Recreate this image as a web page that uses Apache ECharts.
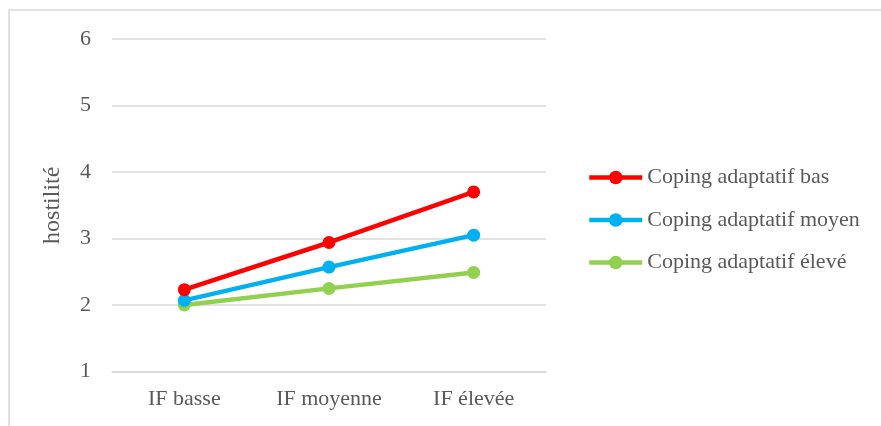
<!DOCTYPE html>
<html>
<head>
<meta charset="utf-8">
<script src="https://cdn.jsdelivr.net/npm/echarts@6/dist/echarts.min.js"></script>
<style>
  html, body { margin: 0; padding: 0; background: #ffffff; }
  #chart { width: 881px; height: 426px; }
</style>
</head>
<body>
<div id="chart"></div>
<script>
// Niveaux d'intolérance à la frustration (axe des abscisses)
const categories = ['IF basse', 'IF moyenne', 'IF élevée'];

// Hostilité moyenne selon le niveau de coping adaptatif
const copingBas = [2.23, 2.94, 3.70];
const copingMoyen = [2.07, 2.57, 3.05];
const copingEleve = [2.00, 2.25, 2.49];

const seriesNames = ['Coping adaptatif bas', 'Coping adaptatif moyen', 'Coping adaptatif élevé'];
const seriesColors = ['#FF0000', '#00B0F0', '#92D050'];
const seriesValues = [copingBas, copingMoyen, copingEleve];

const axisFont = 'Liberation Serif';
const textGray = '#595959';

const chart = echarts.init(document.getElementById('chart'), null, { renderer: 'canvas' });

chart.setOption({
  backgroundColor: '#ffffff',
  animation: false,
  graphic: [
    {
      type: 'polyline',
      shape: { points: [[9, 426], [9, 10], [881, 10]] },
      style: { stroke: '#D9D9D9', lineWidth: 1.5, fill: null },
      silent: true
    }
  ],
  grid: {
    left: 112,
    right: 335,
    top: 39,
    bottom: 54.5,
    containLabel: false
  },
  legend: {
    orient: 'vertical',
    left: 587,
    top: 166,
    padding: 0,
    itemWidth: 53,
    itemHeight: 17,
    itemGap: 19.5,
    lineStyle: { width: 4.5 },
    textStyle: { fontFamily: axisFont, fontSize: 22, color: textGray, lineHeight: 23 },
    data: seriesNames
  },
  xAxis: {
    type: 'category',
    data: categories,
    boundaryGap: true,
    axisLine: { show: true, lineStyle: { color: '#D9D9D9', width: 1.5 } },
    axisTick: { show: false },
    axisLabel: { fontFamily: axisFont, fontSize: 22, color: textGray, margin: 17 }
  },
  yAxis: {
    type: 'value',
    min: 1,
    max: 6,
    interval: 1,
    name: 'hostilité',
    nameLocation: 'middle',
    nameGap: 47,
    nameRotate: 90,
    nameTextStyle: { fontFamily: axisFont, fontSize: 24, color: textGray },
    axisLine: { show: false },
    axisTick: { show: false },
    axisLabel: { fontFamily: axisFont, fontSize: 22, color: textGray, margin: 21 },
    splitLine: { lineStyle: { color: '#D9D9D9', width: 1.5 } }
  },
  series: seriesNames.map((name, i) => ({
    name: name,
    type: 'line',
    data: seriesValues[i],
    symbol: 'circle',
    symbolSize: 13,
    color: seriesColors[i],
    lineStyle: { width: 4.5, color: seriesColors[i] },
    itemStyle: { color: seriesColors[i] },
    z: 10 - i
  }))
});
</script>
</body>
</html>
